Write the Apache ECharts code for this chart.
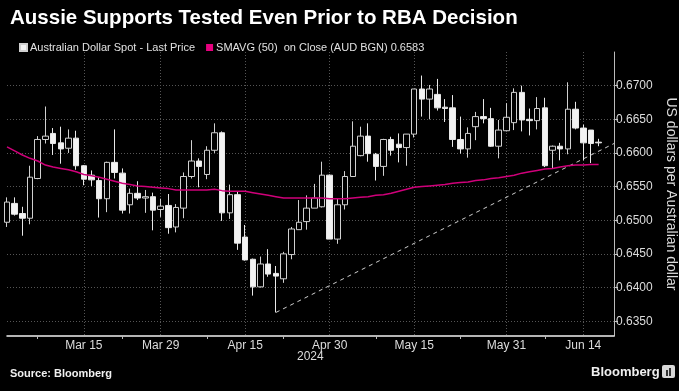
<!DOCTYPE html>
<html><head><meta charset="utf-8">
<script src="https://cdn.jsdelivr.net/npm/echarts@6/dist/echarts.min.js"></script>
<style>html,body{margin:0;padding:0;background:#000}#c{width:679px;height:391px}</style>
</head><body><div id="c"></div>
<script>
const dates = [
'2024-03-01','2024-03-04','2024-03-05','2024-03-06','2024-03-07','2024-03-08','2024-03-11','2024-03-12','2024-03-13','2024-03-14','2024-03-15',
'2024-03-18','2024-03-19','2024-03-20','2024-03-21','2024-03-22','2024-03-25','2024-03-26','2024-03-27','2024-03-28','2024-03-29',
'2024-04-01','2024-04-02','2024-04-03','2024-04-04','2024-04-05','2024-04-08','2024-04-09','2024-04-10','2024-04-11','2024-04-12',
'2024-04-15','2024-04-16','2024-04-17','2024-04-18','2024-04-19','2024-04-22','2024-04-23','2024-04-24','2024-04-25','2024-04-26',
'2024-04-29','2024-04-30','2024-05-01','2024-05-02','2024-05-03','2024-05-06','2024-05-07','2024-05-08','2024-05-09','2024-05-10',
'2024-05-13','2024-05-14','2024-05-15','2024-05-16','2024-05-17','2024-05-20','2024-05-21','2024-05-22','2024-05-23','2024-05-24',
'2024-05-27','2024-05-28','2024-05-29','2024-05-30','2024-05-31','2024-06-03','2024-06-04','2024-06-05','2024-06-06','2024-06-07',
'2024-06-10','2024-06-11','2024-06-12','2024-06-13','2024-06-14','2024-06-17','2024-06-18','2024-06-19','2024-06-20'];

const openVals = [0.6497,0.6525,0.6510,0.6503,0.6562,0.6620,0.6629,0.6615,0.6607,0.6622,0.6581,0.6567,0.6559,0.6532,0.6586,0.6570,0.6523,0.6540,0.6533,0.6535,
0.6516,0.6522,0.6490,0.6518,0.6565,0.6588,0.6568,0.6604,0.6630,0.6511,0.6538,0.6475,0.6442,0.6401,0.6435,0.6421,0.6413,0.6449,0.6486,0.6498,
0.6518,0.6520,0.6567,0.6472,0.6523,0.6565,0.6596,0.6625,0.6598,0.6580,0.6620,0.6613,0.6608,0.6628,0.6695,0.6680,0.6687,0.6668,0.6667,0.6620,
0.6606,0.6639,0.6654,0.6651,0.6610,0.6633,0.6645,0.6690,0.6650,0.6648,0.6667,0.6604,0.6610,0.6606,0.6665,0.6637,0.6634,0.6616];
const closeVals = [0.6527,0.6509,0.6503,0.6564,0.6620,0.6625,0.6614,0.6606,0.6622,0.6581,0.6561,0.6560,0.6532,0.6586,0.6571,0.6515,0.6540,0.6533,0.6535,0.6515,
0.6521,0.6489,0.6519,0.6565,0.6588,0.6580,0.6604,0.6630,0.6511,0.6538,0.6466,0.6441,0.6401,0.6435,0.6420,0.6417,0.6450,0.6487,0.6497,0.6518,
0.6533,0.6567,0.6472,0.6523,0.6565,0.6610,0.6625,0.6599,0.6580,0.6620,0.6604,0.6608,0.6628,0.6695,0.6680,0.6695,0.6667,0.6666,0.6620,0.6606,
0.6629,0.6654,0.6651,0.6610,0.6634,0.6653,0.6690,0.6649,0.6648,0.6666,0.6581,0.6610,0.6606,0.6665,0.6637,0.6615,0.6614,0.6615];
const lowVals = [0.6490,0.6507,0.6477,0.6494,0.6561,0.6614,0.6597,0.6584,0.6600,0.6575,0.6552,0.6551,0.6504,0.6512,0.6562,0.6510,0.6510,0.6530,0.6511,0.6485,
0.6505,0.6480,0.6482,0.6503,0.6562,0.6549,0.6561,0.6600,0.6499,0.6502,0.6456,0.6440,0.6388,0.6400,0.6416,0.6363,0.6407,0.6442,0.6486,0.6486,
0.6518,0.6519,0.6472,0.6465,0.6516,0.6565,0.6595,0.6587,0.6559,0.6566,0.6596,0.6586,0.6581,0.6623,0.6654,0.6650,0.6663,0.6646,0.6609,0.6599,
0.6593,0.6619,0.6644,0.6609,0.6592,0.6632,0.6634,0.6632,0.6626,0.6635,0.6579,0.6577,0.6589,0.6598,0.6635,0.6589,0.6585,0.6610];
const highVals = [0.6534,0.6534,0.6520,0.6581,0.6625,0.6669,0.6637,0.6639,0.6635,0.6633,0.6582,0.6574,0.6564,0.6587,0.6635,0.6577,0.6547,0.6558,0.6545,0.6541,
0.6532,0.6539,0.6524,0.6571,0.6619,0.6592,0.6610,0.6644,0.6632,0.6553,0.6543,0.6493,0.6443,0.6446,0.6457,0.6432,0.6453,0.6490,0.6530,0.6537,
0.6554,0.6587,0.6568,0.6533,0.6573,0.6647,0.6639,0.6644,0.6600,0.6621,0.6624,0.6629,0.6628,0.6695,0.6715,0.6701,0.6710,0.6680,0.6686,0.6654,
0.6638,0.6661,0.6680,0.6667,0.6649,0.6674,0.6696,0.6700,0.6666,0.6683,0.6682,0.6611,0.6615,0.6705,0.6676,0.6642,0.6634,0.6621];
const smaVals = [0.6609,0.6603,0.6597,0.6592,0.6588,0.6582,0.6579,0.6577,0.6575,0.6572,0.6568,0.6566,0.6564,0.6561,0.6558,0.6555,0.6553,0.6551,0.6550,0.6549,
0.6548,0.6547,0.6545,0.6545,0.6545,0.6545,0.6545,0.6546,0.6544,0.6543,0.6543,0.6543,0.6541,0.6539,0.6537,0.6535,0.6533,0.6533,0.6533,0.6533,
0.6533,0.6533,0.6532,0.6532,0.6532,0.6533,0.6534,0.6535,0.6537,0.6538,0.6540,0.6543,0.6546,0.6549,0.6550,0.6551,0.6552,0.6553,0.6555,0.6556,
0.6557,0.6559,0.6560,0.6562,0.6563,0.6565,0.6567,0.6570,0.6572,0.6574,0.6576,0.6577,0.6579,0.6581,0.6582,0.6582,0.6583,0.6583];
const trendDates = ['2024-04-19','2024-06-20'];
const trendVals = [0.6363,0.6614];
const yTicks = [0.635,0.640,0.645,0.650,0.655,0.660,0.665,0.670];
const xLabelDates = ['2024-03-15','2024-03-29','2024-04-15','2024-04-30','2024-05-15','2024-05-31','2024-06-14'];
const xMinorDates = ['2024-03-07','2024-03-22','2024-04-08','2024-04-22','2024-05-08','2024-05-23','2024-06-07'];
const priceName = 'Australian Dollar Spot - Last Price';
const smaName = 'SMAVG (50)  on Close (AUD BGN) 0.6583';
const monthNames = ['Jan','Feb','Mar','Apr','May','Jun','Jul','Aug','Sep','Oct','Nov','Dec'];

const candleData = openVals.map((o,i)=>[o, closeVals[i], lowVals[i], highVals[i]]);
const trendData = trendDates.map((d,i)=>[d, trendVals[i]]);
const FONT = 'Liberation Sans';

const chart = echarts.init(document.getElementById('c'), null, {renderer:'canvas'});
chart.setOption({
  backgroundColor:'#000',
  animation:false,
  textStyle:{fontFamily:FONT},
  title:{text:'Aussie Supports Tested Even Prior to RBA Decision', left:5, top:3,
    textStyle:{color:'#fff', fontSize:20.5, fontWeight:'bold', fontFamily:FONT}},
  legend:{left:14, top:37, itemWidth:7, itemHeight:7, itemGap:11, icon:'rect',
    textStyle:{color:'#e0e0e0', fontSize:11, fontFamily:FONT, padding:[0,0,0,-2]},
    data:[{name:priceName, itemStyle:{color:'#f2f2f2'}}, {name:smaName, itemStyle:{color:'#e6007e'}}]},
  grid:{left:7, right:65, top:52, bottom:55, outerBoundsMode:'none'},
  xAxis:{type:'category', data:dates, boundaryGap:false,
    axisLine:{lineStyle:{color:'#f0f0f0', width:1.5}},
    axisTick:{show:true, length:3, inside:false, interval:(i,v)=>xMinorDates.includes(v), lineStyle:{color:'#bbb'}},
    axisLabel:{interval:(i,v)=>xLabelDates.includes(v), color:'#dcdcdc', fontSize:12, margin:4,
      formatter:v=>monthNames[parseInt(v.slice(5,7),10)-1]+' '+parseInt(v.slice(8,10),10)},
    splitLine:{show:true, interval:(i,v)=>xLabelDates.includes(v), lineStyle:{color:'#555', type:[1,2], width:1}}},
  yAxis:{type:'value', position:'right', min:0.6328, max:0.6750, scale:true,
    name:'US dollars per Australian dollar', nameLocation:'middle', nameRotate:-90, nameGap:47,
    nameTextStyle:{color:'#dcdcdc', fontSize:14, fontFamily:FONT},
    axisLine:{show:true, lineStyle:{color:'#bbb', width:1}},
    axisTick:{show:true, length:4, customValues:yTicks, lineStyle:{color:'#bbb'}},
    axisLabel:{customValues:yTicks, color:'#dcdcdc', fontSize:12, margin:2, formatter:v=>v.toFixed(4)},
    splitLine:{show:true, lineStyle:{color:'#555', type:[1,2], width:1}}},
  series:[
    {name:priceName, type:'candlestick', data:candleData, barWidth:6,
      itemStyle:{color:'#000', color0:'#f2f2f2', borderColor:'#d0d0d0', borderColor0:'#e8e8e8', borderWidth:1}},
    {name:smaName, type:'line', data:smaVals, showSymbol:false, symbol:'none', z:5,
      lineStyle:{color:'#d0007a', width:1.5}},
    {name:'trend', type:'line', data:trendData, showSymbol:false, symbol:'none', z:4,
      lineStyle:{color:'#cfcfcf', width:1, type:[4,4]}}
  ],
  graphic:[
    {type:'text', left:297, top:351, style:{text:'2024', fill:'#dcdcdc', font:'12px '+FONT}},
    {type:'text', left:10, top:368, style:{text:'Source: Bloomberg', fill:'#f0f0f0', font:'bold 11px '+FONT}},
    {type:'text', left:591, top:366, style:{text:'Bloomberg', fill:'#f0f0f0', font:'bold 13px '+FONT}},
    {type:'rect', shape:{x:662, y:365, width:13, height:13, r:2}, style:{fill:'#d8d8d8'}},
    {type:'rect', shape:{x:666, y:370, width:2, height:6}, style:{fill:'#333'}},
    {type:'rect', shape:{x:669, y:368, width:2, height:8}, style:{fill:'#333'}}
  ]
});
</script></body></html>
